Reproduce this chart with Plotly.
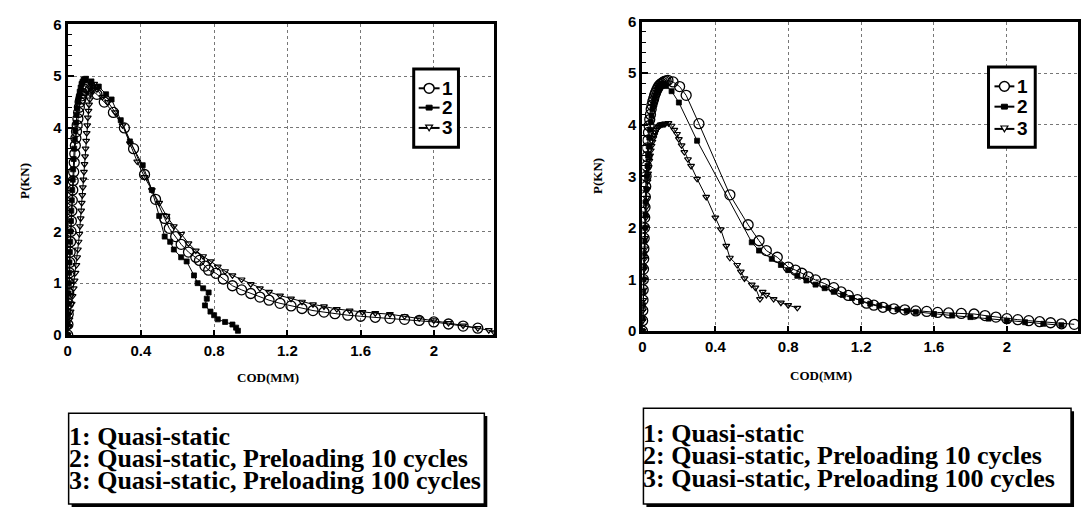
import plotly.graph_objects as go

W, H = 1081, 515

# ---------------- data: left chart ----------------
L1_x = [0, 0.0015, 0.003, 0.0045, 0.006, 0.008, 0.01, 0.012, 0.014, 0.016, 0.018, 0.0205, 0.023, 0.0255, 0.028,
        0.0305, 0.033, 0.036, 0.039, 0.042, 0.045, 0.0485, 0.052, 0.056, 0.06, 0.064, 0.068, 0.072, 0.077, 0.082,
        0.087, 0.092, 0.098, 0.104, 0.11, 0.125, 0.16, 0.2, 0.25, 0.31, 0.36, 0.42, 0.48, 0.53, 0.555, 0.59,
        0.62, 0.66, 0.7, 0.72, 0.75, 0.77, 0.81, 0.85, 0.9, 0.95, 1.0, 1.05, 1.1, 1.16, 1.22, 1.28, 1.34,
        1.4, 1.46, 1.53, 1.6, 1.68, 1.76, 1.84, 1.92, 2.0, 2.08, 2.16, 2.24]
L1_y = [0, 0.2, 0.4, 0.6, 0.8, 1.0, 1.2, 1.4, 1.6, 1.8, 2.0, 2.2, 2.4, 2.6, 2.8,
        2.98, 3.15, 3.33, 3.5, 3.66, 3.8, 3.93, 4.05, 4.18, 4.3, 4.4, 4.5, 4.56, 4.62, 4.67,
        4.72, 4.75, 4.78, 4.79, 4.8, 4.75, 4.65, 4.5, 4.3, 4.0, 3.6, 3.1, 2.62, 2.25, 2.06, 1.9,
        1.75, 1.6, 1.5, 1.44, 1.33, 1.25, 1.19, 1.08, 0.95, 0.87, 0.8, 0.73, 0.67, 0.61, 0.56, 0.51, 0.47,
        0.44, 0.41, 0.38, 0.36, 0.34, 0.32, 0.3, 0.28, 0.25, 0.21, 0.17, 0.13]

L2_x = [0, 0.001, 0.002, 0.0035, 0.005, 0.0065, 0.008, 0.01, 0.012, 0.014, 0.016, 0.018, 0.02, 0.0225, 0.025,
        0.0275, 0.03, 0.033, 0.036, 0.039, 0.042, 0.0455, 0.049, 0.053, 0.057, 0.061, 0.066, 0.071, 0.076,
        0.081, 0.087, 0.093, 0.1, 0.13, 0.17, 0.21, 0.24, 0.29, 0.34, 0.41, 0.46, 0.5, 0.53, 0.56, 0.58,
        0.62, 0.65, 0.69, 0.71, 0.74, 0.77, 0.76, 0.75, 0.78, 0.8, 0.82, 0.86, 0.9, 0.92, 0.93]
L2_y = [0, 0.2, 0.4, 0.6, 0.8, 1.0, 1.2, 1.4, 1.6, 1.8, 2.0, 2.2, 2.4, 2.6, 2.8,
        3.0, 3.2, 3.4, 3.6, 3.78, 3.95, 4.1, 4.25, 4.38, 4.5, 4.6, 4.7, 4.78, 4.85,
        4.89, 4.93, 4.94, 4.95, 4.9, 4.8, 4.65, 4.55, 4.15, 3.74, 3.28, 2.8, 2.3, 1.9, 1.8, 1.65,
        1.5, 1.42, 1.15, 1.0, 0.9, 0.82, 0.7, 0.57, 0.45, 0.38, 0.3, 0.25, 0.2, 0.14, 0.08]

L3_x = [0, 0.005, 0.01, 0.016, 0.022, 0.027, 0.033, 0.038, 0.043, 0.048, 0.052, 0.056, 0.06, 0.064, 0.067,
        0.071, 0.074, 0.077, 0.08, 0.083, 0.086, 0.089, 0.092, 0.095, 0.098, 0.101, 0.104, 0.107, 0.11,
        0.114, 0.117, 0.121, 0.125, 0.13, 0.135, 0.145, 0.16, 0.19, 0.22, 0.26, 0.3, 0.34, 0.38, 0.42,
        0.46, 0.5, 0.54, 0.58, 0.62, 0.66, 0.7, 0.74, 0.78, 0.82, 0.86, 0.9, 0.95, 1.0, 1.05, 1.1, 1.16,
        1.22, 1.28, 1.34, 1.4, 1.47, 1.54, 1.61, 1.68, 1.76, 1.84, 1.92, 2.0, 2.08, 2.16, 2.24, 2.3, 2.33]
L3_y = [0, 0.15, 0.3, 0.45, 0.6, 0.75, 0.9, 1.05, 1.2, 1.35, 1.5, 1.65, 1.8, 1.95, 2.1,
        2.25, 2.4, 2.55, 2.7, 2.85, 3.0, 3.15, 3.3, 3.45, 3.6, 3.75, 3.9, 4.05, 4.2,
        4.33, 4.45, 4.55, 4.65, 4.73, 4.8, 4.85, 4.75, 4.6, 4.5, 4.3, 4.05, 3.7, 3.35, 3.05,
        2.8, 2.55, 2.3, 2.1, 1.95, 1.77, 1.63, 1.52, 1.42, 1.32, 1.23, 1.15, 1.07, 0.98, 0.9, 0.83, 0.76,
        0.7, 0.64, 0.59, 0.55, 0.5, 0.47, 0.44, 0.42, 0.4, 0.36, 0.32, 0.28, 0.23, 0.18, 0.13, 0.09, 0.05]

# ---------------- data: right chart ----------------
R1_x = [0, 0.001, 0.002, 0.003, 0.004, 0.005, 0.006, 0.007, 0.008, 0.0095, 0.011, 0.0125, 0.014, 0.016, 0.018,
        0.02, 0.022, 0.0245, 0.027, 0.03, 0.033, 0.0365, 0.04, 0.044, 0.048, 0.052, 0.057, 0.062, 0.067,
        0.072, 0.078, 0.084, 0.09, 0.097, 0.105, 0.112, 0.12, 0.13, 0.14, 0.168, 0.204, 0.24, 0.31, 0.48,
        0.58, 0.64, 0.68, 0.74, 0.8, 0.84, 0.875, 0.91, 0.95, 1.0, 1.05, 1.09, 1.13, 1.18, 1.23, 1.27,
        1.32, 1.38, 1.44, 1.5, 1.56, 1.62, 1.68, 1.75, 1.82, 1.88, 1.94, 2.0, 2.06, 2.12, 2.18, 2.24, 2.3, 2.37]
R1_y = [0, 0.2, 0.4, 0.6, 0.8, 1.0, 1.2, 1.4, 1.6, 1.8, 2.0, 2.2, 2.4, 2.6, 2.8,
        3.0, 3.2, 3.38, 3.55, 3.7, 3.85, 3.98, 4.1, 4.2, 4.3, 4.38, 4.45, 4.51, 4.57,
        4.62, 4.67, 4.71, 4.75, 4.78, 4.8, 4.82, 4.84, 4.85, 4.86, 4.83, 4.74, 4.57, 4.02, 2.64,
        2.06, 1.75, 1.56, 1.43, 1.24, 1.18, 1.12, 1.05, 0.99, 0.92, 0.84, 0.76, 0.69, 0.61, 0.54, 0.5,
        0.46, 0.43, 0.41, 0.39, 0.38, 0.36, 0.35, 0.34, 0.33, 0.3, 0.27, 0.24, 0.22, 0.2, 0.18, 0.16, 0.14, 0.13]

R2_x = [0, 0.0015, 0.003, 0.0045, 0.006, 0.008, 0.01, 0.012, 0.014, 0.0165, 0.019, 0.022, 0.025, 0.028, 0.031,
        0.0345, 0.038, 0.042, 0.046, 0.05, 0.055, 0.06, 0.065, 0.07, 0.076, 0.082, 0.088, 0.094, 0.1, 0.107,
        0.115, 0.122, 0.13, 0.16, 0.2, 0.3, 0.6, 0.64, 0.71, 0.76, 0.8, 0.85, 0.9, 0.95, 1.0, 1.05, 1.1,
        1.15, 1.2, 1.25, 1.3, 1.35, 1.4, 1.45, 1.5, 1.6, 1.7, 1.8, 1.9, 2.0, 2.1, 2.2, 2.3]
R2_y = [0, 0.25, 0.5, 0.75, 1.0, 1.25, 1.5, 1.75, 2.0, 2.25, 2.5, 2.75, 3.0, 3.2, 3.4,
        3.58, 3.75, 3.9, 4.05, 4.18, 4.3, 4.4, 4.5, 4.56, 4.62, 4.67, 4.72, 4.75, 4.78, 4.79,
        4.8, 4.78, 4.75, 4.65, 4.43, 3.69, 1.72, 1.56, 1.4, 1.28, 1.18, 1.07, 0.98, 0.9, 0.83, 0.76, 0.7,
        0.64, 0.58, 0.53, 0.49, 0.45, 0.42, 0.39, 0.37, 0.33, 0.3, 0.27, 0.24, 0.2, 0.17, 0.14, 0.11]

R3_x = [0, 0.0015, 0.003, 0.0045, 0.006, 0.0075, 0.009, 0.0105, 0.012, 0.014, 0.016, 0.018, 0.02, 0.0225,
        0.025, 0.028, 0.031, 0.0345, 0.038, 0.042, 0.046, 0.05, 0.055, 0.06, 0.065, 0.07, 0.076, 0.082,
        0.088, 0.094, 0.1, 0.107, 0.113, 0.12, 0.126, 0.143, 0.16, 0.175, 0.19, 0.2, 0.215, 0.23, 0.25,
        0.267, 0.3, 0.35, 0.4, 0.43, 0.46, 0.48, 0.52, 0.54, 0.56, 0.6, 0.62, 0.645, 0.66, 0.68, 0.72,
        0.76, 0.8, 0.85]
R3_y = [0, 0.2, 0.4, 0.6, 0.8, 1.0, 1.2, 1.4, 1.6, 1.8, 2.0, 2.2, 2.4, 2.58,
        2.75, 2.9, 3.05, 3.18, 3.3, 3.4, 3.5, 3.59, 3.67, 3.74, 3.8, 3.85, 3.9, 3.93,
        3.96, 3.98, 4.0, 4.005, 4.01, 4.015, 4.02, 4.03, 3.98, 3.9, 3.82, 3.72, 3.6, 3.47, 3.33,
        3.2, 2.95, 2.6, 2.2, 1.97, 1.65, 1.42, 1.28, 1.15, 1.02, 0.9, 0.84, 0.62, 0.76, 0.7, 0.62,
        0.55, 0.5, 0.45]

series_names = ["1", "2", "3"]
x_tickvals = [0, 0.4, 0.8, 1.2, 1.6, 2.0]
x_ticktext = ["0", "0.4", "0.8", "1.2", "1.6", "2"]
y_tickvals = [0, 1, 2, 3, 4, 5, 6]
caption_lines = ["1: Quasi-static",
                 "2: Quasi-static, Preloading 10 cycles",
                 "3: Quasi-static, Preloading 100 cycles"]

# ---------------- figure ----------------
def px(x):
    return x / W

def py(y):
    return 1 - y / H

styles = [
    dict(symbol="circle-open", size=10, line=dict(width=1.3, color="black"), color="black"),
    dict(symbol="square", size=5, line=dict(width=0.8, color="black"), color="black"),
    dict(symbol="triangle-down-open", size=6, line=dict(width=1.2, color="black"), color="black"),
]

fig = go.Figure()
left = [(L1_x, L1_y), (L2_x, L2_y), (L3_x, L3_y)]
right = [(R1_x, R1_y), (R2_x, R2_y), (R3_x, R3_y)]
for i, (xs, ys) in enumerate(left):
    fig.add_trace(go.Scatter(x=xs, y=ys, mode="lines+markers", name=series_names[i],
                             line=dict(color="black", width=1), marker=styles[i],
                             xaxis="x", yaxis="y", showlegend=False))
for i, (xs, ys) in enumerate(right):
    fig.add_trace(go.Scatter(x=xs, y=ys, mode="lines+markers", name=series_names[i],
                             line=dict(color="black", width=1), marker=styles[i],
                             xaxis="x2", yaxis="y2", showlegend=False))

tickfont = dict(family="Liberation Sans, Arial, sans-serif", size=15, color="black", weight="bold")

def xaxis_cfg(dom, rng, anchor):
    return dict(domain=dom, range=rng, anchor=anchor, tickvals=x_tickvals, ticktext=x_ticktext,
                showline=True, linewidth=3, linecolor="black", mirror=True,
                ticks="inside", ticklen=5, tickwidth=1.5, tickcolor="black",
                showgrid=True, gridcolor="#777", griddash="dot", gridwidth=1,
                zeroline=False, tickfont=tickfont)

def yaxis_cfg(dom, anchor):
    return dict(domain=dom, range=[0, 6], anchor=anchor, tickvals=y_tickvals,
                showline=True, linewidth=3, linecolor="black", mirror=True,
                ticks="inside", ticklen=6, tickwidth=1.5, tickcolor="black",
                minor=dict(dtick=0.2, ticks="inside", ticklen=4, tickcolor="black", tickwidth=1, showgrid=False),
                showgrid=True, gridcolor="#777", griddash="dot", gridwidth=1,
                zeroline=False, tickfont=tickfont)

fig.update_layout(
    width=W, height=H, margin=dict(l=0, r=0, t=0, b=0),
    paper_bgcolor="white", plot_bgcolor="white",
    xaxis=xaxis_cfg([px(64), px(493)], [0, 2.33], "y"),
    yaxis=yaxis_cfg([py(337), py(16)], "x"),
    xaxis2=xaxis_cfg([px(642), 0.999], [0, 2.39], "y2"),
    yaxis2=yaxis_cfg([py(333), py(13)], "x2"),
    showlegend=False,
)

# ---- in-plot legend boxes (drawn as shapes + text) ----
legend_font = dict(family="Liberation Sans, Arial, sans-serif", size=19, color="black", weight="bold")
legends = [
    dict(x0=412, x1=457, y0=62, y1=143, sx0=417, sx1=438, tx=446, ys=[82, 102, 123]),
    dict(x0=990, x1=1037, y0=60, y1=143, sx0=996, sx1=1016, tx=1024, ys=[80, 101, 124]),
]
for lg in legends:
    fig.add_shape(type="rect", xref="paper", yref="paper",
                  x0=px(lg["x0"]), x1=px(lg["x1"]), y0=py(lg["y1"]), y1=py(lg["y0"]),
                  line=dict(color="black", width=3), fillcolor="white", layer="above")
    cx = (lg["sx0"] + lg["sx1"]) / 2
    for k, (name, yy) in enumerate(zip(series_names, lg["ys"])):
        fig.add_shape(type="line", xref="paper", yref="paper",
                      x0=px(lg["sx0"]), x1=px(lg["sx1"]), y0=py(yy), y1=py(yy),
                      line=dict(color="black", width=2), layer="above")
        if k == 0:
            fig.add_shape(type="circle", xref="paper", yref="paper",
                          x0=px(cx - 5), x1=px(cx + 5), y0=py(yy + 5), y1=py(yy - 5),
                          line=dict(color="black", width=1.5), fillcolor="white", layer="above")
        elif k == 1:
            fig.add_shape(type="rect", xref="paper", yref="paper",
                          x0=px(cx - 3), x1=px(cx + 3), y0=py(yy + 2.5), y1=py(yy - 2.5),
                          line=dict(color="black", width=1), fillcolor="black", layer="above")
        else:
            path = "M {a},{b} L {c},{b} L {d},{e} Z".format(
                a=px(cx - 3.5), c=px(cx + 3.5), b=py(yy - 3), d=px(cx), e=py(yy + 3))
            fig.add_shape(type="path", xref="paper", yref="paper", path=path,
                          line=dict(color="black", width=1.2), fillcolor="white", layer="above")
        fig.add_annotation(xref="paper", yref="paper", showarrow=False, text=name, font=legend_font,
                           x=px(lg["tx"]), y=py(yy), xanchor="center", yanchor="middle")

title_font = dict(family="Liberation Serif, Times New Roman, serif", size=13, color="black", weight="bold")
annotations = [
    dict(text="P(KN)", x=px(20), y=py(178), textangle=-90),
    dict(text="P(KN)", x=px(597), y=py(173), textangle=-90),
    dict(text="COD(MM)", x=px(265), y=py(381)),
    dict(text="COD(MM)", x=px(822), y=py(379)),
]
for a in annotations:
    fig.add_annotation(xref="paper", yref="paper", showarrow=False, font=title_font,
                       xanchor="center", yanchor="middle", **a)

cap_font = dict(family="Liberation Serif, Times New Roman, serif", size=26, color="black", weight="bold")
boxes = [
    dict(x0=65, x1=483, y0=418, y1=512, tx=63, ty=[442, 465, 488]),
    dict(x0=643, x1=1073, y0=413, y1=512, tx=641, ty=[439, 462, 486]),
]
for b in boxes:
    fig.add_shape(type="rect", xref="paper", yref="paper",
                  x0=px(b["x0"] + 3), x1=px(b["x1"] + 3), y0=py(b["y1"] + 3), y1=py(b["y0"] + 3),
                  line=dict(color="black", width=0), fillcolor="black", layer="above")
    fig.add_shape(type="rect", xref="paper", yref="paper",
                  x0=px(b["x0"]), x1=px(b["x1"]), y0=py(b["y1"]), y1=py(b["y0"]),
                  line=dict(color="black", width=1.5), fillcolor="white", layer="above")
    for line, yy in zip(caption_lines, b["ty"]):
        fig.add_annotation(xref="paper", yref="paper", showarrow=False, text=line, font=cap_font,
                           x=px(b["tx"]), y=py(yy), xanchor="left", yanchor="middle")

fig.write_html("out.html")
